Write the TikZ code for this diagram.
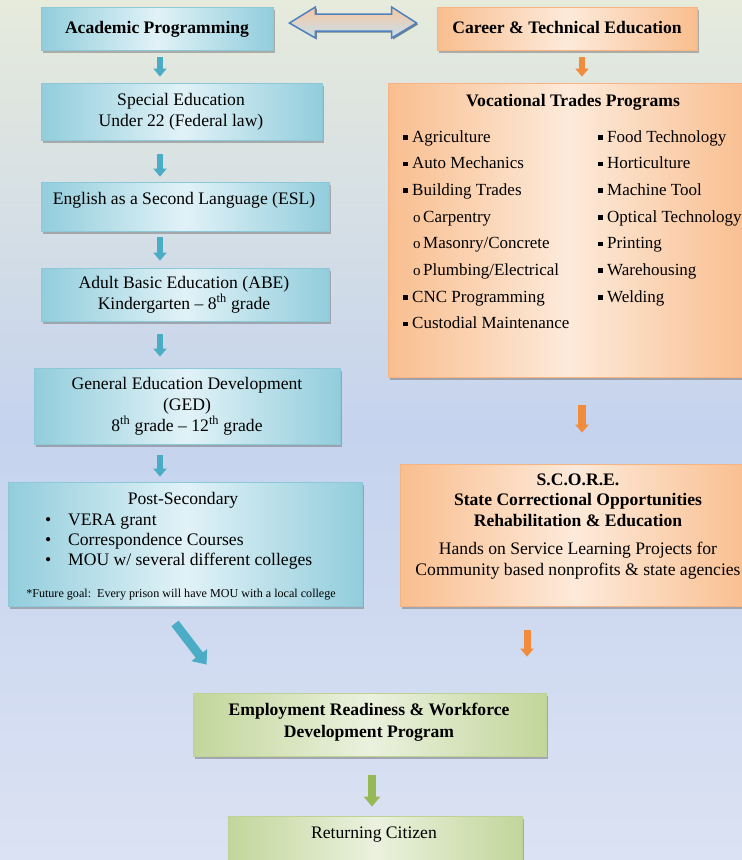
\documentclass[tikz,border=0pt]{standalone}
\usepackage{fontspec}
\setmainfont{Liberation Serif}
\usetikzlibrary{arrows.meta,shadows,calc}
\definecolor{bgtop}{RGB}{230,235,220}
\definecolor{bgmid}{RGB}{197,211,238}
\definecolor{bgbot}{RGB}{219,226,243}
\definecolor{bluedk}{RGB}{146,205,220}
\definecolor{bluelt}{RGB}{225,242,247}
\definecolor{blueln}{RGB}{140,200,215}
\definecolor{orgdk}{RGB}{249,190,143}
\definecolor{orglt}{RGB}{253,234,218}
\definecolor{orgln}{RGB}{246,180,130}
\definecolor{grndk}{RGB}{194,214,155}
\definecolor{grnlt}{RGB}{235,241,222}
\definecolor{grnln}{RGB}{190,210,150}
\definecolor{arrblue}{RGB}{75,172,198}
\definecolor{arrorg}{RGB}{240,140,60}
\definecolor{arrgrn}{RGB}{150,185,85}
\definecolor{dbline}{RGB}{79,129,189}
\definecolor{dbtop}{RGB}{249,198,160}
\definecolor{dbbot}{RGB}{198,224,238}
\newcommand{\sqb}{\raisebox{2.5pt}{\rule{4.3pt}{4.3pt}}}
\newcommand{\lib}[1]{\makebox[9pt][l]{\sqb}#1}
\newcommand{\lio}[1]{\makebox[10pt][l]{\fontsize{15}{17}\selectfont o}#1}
\newcommand{\lip}[1]{\makebox[23pt][l]{\textbullet}#1}
\begin{document}
\begin{tikzpicture}[x=1pt,y=-1pt,
  box/.style={rectangle, inner sep=0pt, line width=0.8pt, shading angle=45,
    drop shadow={shadow xshift=2pt, shadow yshift=-2.5pt, fill=black!60, opacity=0.45}},
  bluebox/.style={box, draw=blueln, left color=bluedk, right color=bluedk, middle color=bluelt},
  orgbox/.style={box, draw=orgln, left color=orgdk, right color=orgdk, middle color=orglt},
  grnbox/.style={box, draw=grnln, left color=grndk, right color=grndk, middle color=grnlt},
  txt/.style={inner sep=0pt, anchor=base, align=center, font=\fontsize{17.6}{20.5}\selectfont},
  btxt/.style={txt, font=\fontsize{17.6}{20.5}\selectfont\bfseries},
  li/.style={inner sep=0pt, anchor=base west, font=\fontsize{17}{20}\selectfont},
  barrow/.style={line width=6pt, draw=arrblue, -{Triangle[width=13pt,length=8pt]}},
  oarrow/.style={line width=6.5pt, draw=arrorg, -{Triangle[width=13pt,length=8pt]}},
  garrow/.style={line width=8pt, draw=arrgrn, -{Triangle[width=16pt,length=10pt]}}
]
\useasboundingbox (0,0) rectangle (742,860);
\shade[top color=bgtop, bottom color=bgbot, middle color=bgmid] (0,0) rectangle (742,860);

% boxes
\node[bluebox, minimum width=232pt, minimum height=43pt] (acad) at (157,28.5) {};
\node[orgbox, minimum width=260pt, minimum height=43pt] (cte) at (567,28.5) {};
\node[bluebox, minimum width=281pt, minimum height=57pt] (spec) at (181.5,111.5) {};
\node[bluebox, minimum width=288pt, minimum height=49pt] (esl) at (185,206.5) {};
\node[bluebox, minimum width=288pt, minimum height=53pt] (abe) at (185,294.5) {};
\node[bluebox, minimum width=306pt, minimum height=76pt] (ged) at (187,406) {};
\node[bluebox, minimum width=354pt, minimum height=124pt] (post) at (185,544) {};
\node[orgbox, minimum width=362pt, minimum height=294pt] (voc) at (569,230) {};
\node[orgbox, minimum width=350pt, minimum height=142pt] (score) at (575,535) {};
\node[grnbox, minimum width=353pt, minimum height=63pt] (emp) at (369.5,724.5) {};
\node[grnbox, minimum width=294pt, minimum height=60pt] (ret) at (375,846) {};

% texts (anchor base = baseline of the last line)
\node[btxt] (tacad) at (157,33) {Academic Programming};
\node[btxt] (tcte) at (567,33) {Career \& Technical Education};
\node[txt] (tspec) at (181,126) {Special Education\\Under 22 (Federal law)};
\node[txt] (tesl) at (184,204) {English as a Second Language (ESL)};
\node[txt] (tabe) at (184,309) {Adult Basic Education (ABE)\\Kindergarten -- 8\textsuperscript{th} grade};
\node[txt, font=\fontsize{17.6}{21}\selectfont] (tged) at (187,431) {General Education Development\\(GED)\\8\textsuperscript{th} grade -- 12\textsuperscript{th} grade};
\node[txt] (tpost) at (183,504) {Post-Secondary};
\node[li, font=\fontsize{17.6}{20.5}\selectfont] (p1) at (45,525) {\lip{VERA grant}};
\node[li, font=\fontsize{17.6}{20.5}\selectfont] (p2) at (45,545) {\lip{Correspondence Courses}};
\node[li, font=\fontsize{17.6}{20.5}\selectfont] (p3) at (45,565) {\lip{MOU w/ several different colleges}};
\node[txt, font=\fontsize{12.1}{14}\selectfont] (pfoot) at (181,597) {*Future goal:\ \ Every prison will have MOU with a local college};

\node[btxt] (tvoc) at (573,106) {Vocational Trades Programs};
\node[li] (v1) at (403,142) {\lib{Agriculture}};
\node[li] (v2) at (403,168.5) {\lib{Auto Mechanics}};
\node[li] (v3) at (403,195) {\lib{Building Trades}};
\node[li] (v4) at (413,222) {\lio{Carpentry}};
\node[li] (v5) at (413,248.5) {\lio{Masonry/Concrete}};
\node[li] (v6) at (413,275) {\lio{Plumbing/Electrical}};
\node[li] (v7) at (403,302) {\lib{CNC Programming}};
\node[li] (v8) at (403,328.5) {\lib{Custodial Maintenance}};
\node[li] (w1) at (598,142) {\lib{Food Technology}};
\node[li] (w2) at (598,168.5) {\lib{Horticulture}};
\node[li] (w3) at (598,195) {\lib{Machine Tool}};
\node[li] (w4) at (598,222) {\lib{Optical Technology}};
\node[li] (w5) at (598,248.5) {\lib{Printing}};
\node[li] (w6) at (598,275) {\lib{Warehousing}};
\node[li] (w7) at (598,302) {\lib{Welding}};

\node[btxt] (tscore) at (578,526) {S.C.O.R.E.\\State Correctional Opportunities\\Rehabilitation \& Education};
\node[txt] (tscore2) at (578,575) {Hands on Service Learning Projects for\\Community based nonprofits \& state agencies};

\node[btxt, font=\fontsize{17.6}{21.5}\selectfont\bfseries] (temp) at (369,737) {Employment Readiness \& Workforce\\Development Program};
\node[txt] (tret) at (374,838) {Returning Citizen};

% double arrow between acad and cte
\coordinate (dl) at ([xshift=16pt,yshift=5.5pt]acad.east);
\coordinate (dr) at ([xshift=-20pt,yshift=5.5pt]cte.west);
\path[top color=dbtop, bottom color=dbbot, draw=dbline, line width=1.5pt, line join=miter,
  drop shadow={shadow xshift=1.5pt, shadow yshift=-1.5pt, fill=dbline!50!black, opacity=0.6}]
  (dl) -- ++(26,-16) -- ++(0,7) -- ($(dr)+(-25,-9)$) -- ++(0,-7) -- (dr)
  -- ++(-25,15) -- ++(0,-7) -- ($(dl)+(26,8)$) -- ++(0,7) -- cycle;

% block arrows
\coordinate (ax) at (160,0);
\coordinate (bx) at (582,0);
\coordinate (cx) at (527,0);
\coordinate (gx) at (372,0);
\draw[barrow] ([yshift=-7pt]acad.south -| ax) -- ([yshift=6pt]spec.north -| ax);
\draw[oarrow] ([yshift=-7pt]cte.south -| bx) -- ([yshift=6pt]voc.north -| bx);
\draw[barrow] ([yshift=-14pt]spec.south -| ax) -- ([yshift=5pt]esl.north -| ax);
\draw[barrow] ([yshift=-6pt]esl.south -| ax) -- ([yshift=7pt]abe.north -| ax);
\draw[barrow] ([yshift=-13pt]abe.south -| ax) -- ([yshift=11pt]ged.north -| ax);
\draw[barrow] ([yshift=-11pt]ged.south -| ax) -- ([yshift=5pt]post.north -| ax);
\draw[oarrow, line width=7.5pt] ([yshift=-28pt]voc.south -| bx) -- ([yshift=31pt]score.north -| bx);
\draw[barrow, line width=9pt, -{Triangle[width=19pt,length=12pt]}] ([xshift=-10pt,yshift=-17pt]post.south) -- ([xshift=14pt,yshift=28pt]emp.north west);
\draw[oarrow, line width=7pt] ([yshift=-24pt]score.south -| cx) -- ([yshift=36pt]emp.north -| cx);
\draw[garrow] ([yshift=-19pt]emp.south -| gx) -- ([yshift=9pt]ret.north -| gx);
\end{tikzpicture}
\end{document}
